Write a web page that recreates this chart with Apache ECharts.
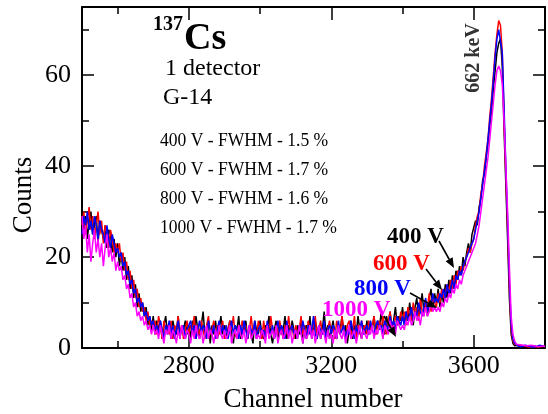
<!DOCTYPE html>
<html>
<head>
<meta charset="utf-8">
<script src="https://cdn.jsdelivr.net/npm/echarts@6/dist/echarts.min.js"></script>
<style>
html, body { margin: 0; padding: 0; background: #fff; }
#main { width: 548px; height: 414px; }
</style>
</head>
<body>
<div id="main"></div>
<script>
// channel axis: 2500..3800, one point every 5 channels
const channels = [];
for (let c = 2500; c <= 3800; c += 5) channels.push(c);

// one row = 100 channels
const counts400 = [
  31, 26, 29, 24, 28, 30, 25, 27, 29, 23, 28, 26, 24, 27, 22, 26, 25, 21, 24, 20,
  23, 18, 21, 17, 20, 15, 18, 13, 16, 11, 14, 9, 12, 8, 10, 7, 9, 5, 7, 4,
  7, 3, 6, 4, 6, 2, 5, 7, 3, 5, 2, 6, 4, 3, 7, 2, 5, 4, 6, 3,
  5, 2, 6, 3, 7, 4, 2, 5, 8, 3, 4, 6, 1, 5, 3, 6, 2, 4, 7, 3,
  5, 2, 4, 6, 3, 1, 5, 4, 7, 2, 4, 3, 6, 2, 5, 3, 1, 6, 4, 3,
  6, 3, 2, 5, 4, 7, 3, 1, 4, 6, 2, 5, 3, 4, 7, 2, 5, 3, 6, 4,
  2, 5, 3, 6, 1, 4, 5, 3, 7, 2, 4, 6, 3, 5, 2, 4, 8, 3, 5, 2,
  4, 6, 3, 2, 5, 4, 7, 3, 5, 1, 4, 6, 2, 5, 3, 7, 4, 2, 5, 3,
  6, 3, 5, 4, 7, 3, 6, 4, 8, 5, 3, 7, 5, 8, 4, 6, 9, 5, 7, 6,
  9, 5, 8, 6, 10, 7, 5, 9, 11, 7, 9, 12, 8, 10, 7, 11, 13, 9, 12, 10,
  13, 9, 12, 10, 14, 11, 15, 12, 16, 13, 17, 15, 18, 16, 20, 18, 21, 23, 21, 25,
  25, 28, 27, 31, 33, 37, 38, 42, 45, 49, 52, 57, 61, 65, 67, 68, 62, 48, 36, 24,
  11, 3, 1, 0.5, 0.3, 0.6, 0.2, 0.5, 0, 0.4, 0.2, 0.5, 0, 0.3, 0.5, 0.2, 0, 0.4, 0.2, 0.3,
  0.2
];
const counts600 = [
  27, 30, 25, 28, 31, 26, 29, 24, 27, 30, 25, 28, 23, 27, 25, 22, 26, 24, 21, 23,
  21, 23, 19, 21, 17, 19, 15, 17, 13, 15, 11, 13, 9, 11, 8, 9, 6, 8, 5, 6,
  4, 6, 3, 7, 5, 2, 6, 4, 5, 3, 6, 2, 5, 4, 7, 3, 5, 2, 4, 6,
  3, 5, 4, 7, 2, 5, 3, 6, 4, 2, 5, 7, 3, 4, 6, 2, 5, 3, 4, 6,
  2, 5, 3, 6, 4, 7, 3, 2, 5, 4, 6, 3, 5, 2, 4, 7, 3, 5, 2, 6,
  4, 2, 6, 3, 5, 3, 7, 4, 2, 5, 3, 6, 4, 2, 5, 3, 7, 4, 5, 2,
  5, 3, 4, 7, 3, 5, 2, 6, 4, 3, 5, 7, 2, 4, 6, 3, 5, 2, 4, 6,
  3, 5, 2, 6, 4, 3, 7, 4, 2, 5, 6, 3, 4, 7, 2, 5, 3, 6, 4, 5,
  3, 6, 4, 5, 7, 3, 5, 6, 4, 7, 5, 3, 6, 8, 5, 4, 7, 6, 5, 8,
  6, 8, 5, 9, 7, 6, 10, 7, 9, 6, 11, 8, 7, 10, 9, 12, 8, 11, 10, 9,
  12, 10, 13, 11, 12, 14, 12, 15, 13, 16, 14, 17, 16, 18, 17, 19, 20, 22, 21, 23,
  24, 27, 29, 30, 34, 36, 40, 43, 46, 51, 55, 60, 65, 69, 72, 71, 65, 51, 38, 26,
  13, 4, 1.5, 0.8, 0.4, 0.6, 0.3, 0.5, 0.2, 0.4, 0.6, 0.2, 0.5, 0.3, 0.4, 0.2, 0.5, 0.3, 0.2, 0.4,
  0.3
];
const counts800 = [
  25, 29, 27, 30, 26, 28, 25, 29, 27, 24, 28, 26, 25, 23, 27, 24, 22, 25, 23, 21,
  22, 20, 21, 18, 19, 16, 17, 14, 15, 12, 13, 10, 11, 9, 10, 7, 8, 6, 7, 5,
  6, 4, 5, 3, 6, 4, 2, 5, 4, 6, 3, 5, 2, 4, 6, 3, 4, 5, 2, 4,
  4, 6, 3, 5, 2, 4, 6, 3, 5, 4, 2, 6, 4, 3, 5, 2, 4, 6, 3, 5,
  3, 5, 2, 4, 6, 3, 5, 4, 2, 5, 3, 6, 4, 2, 5, 4, 3, 6, 2, 4,
  5, 3, 4, 2, 6, 4, 3, 5, 2, 4, 6, 3, 5, 4, 2, 6, 3, 4, 5, 3,
  4, 2, 5, 3, 6, 4, 2, 5, 3, 4, 7, 3, 2, 5, 4, 3, 6, 2, 4, 5,
  3, 5, 4, 2, 6, 3, 4, 5, 2, 4, 3, 6, 4, 2, 5, 3, 4, 6, 3, 4,
  5, 3, 6, 4, 3, 5, 6, 4, 5, 3, 6, 5, 4, 7, 5, 6, 4, 7, 6, 5,
  7, 5, 8, 6, 7, 9, 6, 8, 7, 10, 8, 7, 9, 11, 8, 10, 9, 12, 10, 11,
  10, 12, 11, 13, 11, 14, 12, 13, 15, 13, 16, 15, 17, 16, 18, 19, 20, 21, 22, 23,
  24, 26, 28, 30, 33, 36, 39, 42, 46, 50, 54, 59, 64, 68, 70, 70, 65, 53, 40, 28,
  15, 5, 2, 1, 0.6, 0.4, 0.7, 0.3, 0.5, 0.6, 0.3, 0.4, 0.6, 0.2, 0.5, 0.3, 0.4, 0.6, 0.3, 0.4,
  0.3
];
const counts1000 = [
  29, 24, 27, 21, 25, 19, 23, 26, 21, 24, 20, 23, 18, 22, 25, 20, 22, 19, 21, 17,
  19, 17, 18, 15, 16, 13, 14, 11, 12, 9, 10, 7, 8, 6, 7, 5, 6, 4, 5, 3,
  5, 3, 4, 2, 5, 3, 1, 4, 3, 5, 2, 4, 3, 1, 4, 2, 5, 3, 2, 4,
  3, 1, 4, 2, 5, 3, 2, 4, 1, 3, 5, 2, 4, 3, 1, 4, 2, 5, 3, 2,
  4, 2, 3, 5, 1, 3, 4, 2, 5, 3, 2, 4, 1, 3, 5, 2, 3, 4, 2, 3,
  2, 4, 3, 1, 5, 2, 3, 4, 2, 5, 1, 3, 4, 2, 3, 5, 2, 4, 1, 3,
  4, 2, 5, 3, 1, 4, 2, 3, 5, 2, 4, 1, 3, 5, 2, 4, 3, 1, 4, 2,
  3, 1, 4, 2, 5, 3, 2, 4, 1, 3, 5, 2, 3, 4, 1, 3, 5, 2, 4, 3,
  2, 4, 3, 5, 2, 4, 3, 5, 4, 2, 5, 4, 3, 6, 4, 5, 3, 6, 5, 4,
  5, 4, 6, 5, 7, 5, 6, 8, 6, 7, 5, 8, 7, 9, 7, 8, 10, 8, 9, 8,
  9, 8, 10, 9, 11, 10, 12, 11, 13, 12, 14, 13, 15, 14, 16, 17, 18, 19, 20, 21,
  21, 23, 25, 27, 30, 33, 36, 39, 42, 46, 50, 54, 58, 61, 62, 61, 58, 50, 40, 30,
  18, 7, 3, 1.5, 0.8, 0.5, 0.7, 0.4, 0.6, 0.3, 0.5, 0.4, 0.6, 0.3, 0.5, 0.4, 0.3, 0.5, 0.4, 0.3,
  0.4
];

const xMajor = [2800, 3200, 3600];
const xMinor = [2600, 3000, 3400];
const yMajor = [0, 20, 40, 60];
const yMinor = [10, 30, 50, 70];

const voltLabels = ['400 V', '600 V', '800 V', '1000 V'];
const fwhmLines = [
  '400 V - FWHM - 1.5 %',
  '600 V - FWHM - 1.7 %',
  '800 V - FWHM - 1.6 %',
  '1000 V - FWHM - 1.7 %'
];
const colors = ['#000000', '#ff0000', '#0000ff', '#ff00ff'];

const SERIF = '"Liberation Serif", "DejaVu Serif", serif';
const box = { left: 82, right: 3, top: 7, bottom: 66 };

function pairs(vals) {
  return channels.map((c, i) => [c, vals[i]]);
}

function xAx(grid, pos, ticks, len, withLabel) {
  return {
    gridIndex: grid, type: 'value', min: 2500, max: 3800, position: pos,
    axisLine: { show: grid === 0, onZero: false, lineStyle: { color: '#000', width: 2 } },
    axisTick: { inside: true, length: len, customValues: ticks, lineStyle: { color: '#000', width: 1.5 } },
    axisLabel: { show: withLabel, customValues: ticks, formatter: v => String(v), margin: 5, color: '#000', fontSize: 26, fontFamily: SERIF },
    splitLine: { show: false }
  };
}
function yAx(grid, pos, ticks, len, withLabel) {
  return {
    gridIndex: grid, type: 'value', min: 0, max: 75, position: pos,
    axisLine: { show: grid === 0, onZero: false, lineStyle: { color: '#000', width: 2 } },
    axisTick: { inside: true, length: len, customValues: ticks, lineStyle: { color: '#000', width: 1.5 } },
    axisLabel: { show: withLabel, customValues: ticks, formatter: v => String(v), margin: 11, color: '#000', fontSize: 26, fontFamily: SERIF },
    splitLine: { show: false }
  };
}

function txt(x, y, text, size, opts) {
  opts = opts || {};
  return {
    type: 'text', x: x, y: y, z: 100, rotation: opts.rotation || 0,
    scaleX: opts.sx || 1, scaleY: opts.sy || 1,
    style: {
      text: text, fill: opts.color || '#000', fontSize: size, fontFamily: SERIF,
      fontWeight: opts.bold ? 'bold' : 'normal',
      align: opts.align || 'left', verticalAlign: 'middle'
    }
  };
}

function arrow(x1, y1, x2, y2) {
  const a = Math.atan2(y2 - y1, x2 - x1), L = 10, W = 4;
  const bx = x2 - L * Math.cos(a), by = y2 - L * Math.sin(a);
  return [
    { type: 'line', z: 100, shape: { x1: x1, y1: y1, x2: bx, y2: by }, style: { stroke: '#000', lineWidth: 1.6 } },
    { type: 'polygon', z: 100, shape: { points: [[x2, y2], [bx + W * Math.sin(a), by - W * Math.cos(a)], [bx - W * Math.sin(a), by + W * Math.cos(a)]] }, style: { fill: '#000' } }
  ];
}

const chart = echarts.init(document.getElementById('main'));

const graphics = [
  txt(153, 24.5, '137', 20, { bold: true }),
  txt(184, 39.5, 'Cs', 38, { bold: true }),
  txt(165, 69, '1 detector', 24),
  txt(163, 98, 'G-14', 24),
  txt(474, 58, '662 keV', 20, { bold: true, rotation: Math.PI / 2, align: 'center', color: '#333' }),
  txt(24, 195, 'Counts', 27, { rotation: Math.PI / 2, align: 'center' }),
  txt(313, 400, 'Channel number', 27, { align: 'center' })
];
const fwhmY = [141, 170, 199, 228];
fwhmLines.forEach((t, i) => graphics.push(txt(160, fwhmY[i], t, 19.5, { sx: 0.9 })));
const voltPos = [[387, 237], [373, 264], [354, 289], [322, 310]];
voltLabels.forEach((t, i) => graphics.push(txt(voltPos[i][0], voltPos[i][1], t, 23, { bold: true, color: colors[i] })));
[[439, 241, 454, 268], [426, 269, 442, 290], [410, 293, 437, 308], [384, 316, 396, 337]]
  .forEach(a => graphics.push(...arrow(a[0], a[1], a[2], a[3])));

const seriesVals = [counts400, counts600, counts800, counts1000];

chart.setOption({
  animation: false,
  backgroundColor: '#fff',
  grid: [Object.assign({}, box), Object.assign({}, box)],
  xAxis: [
    xAx(0, 'bottom', xMajor, 13, true),
    xAx(0, 'top', xMajor, 13, false),
    xAx(1, 'bottom', xMinor, 7, false),
    xAx(1, 'top', xMinor, 7, false)
  ],
  yAxis: [
    yAx(0, 'left', yMajor, 12, true),
    yAx(0, 'right', yMajor, 12, false),
    yAx(1, 'left', yMinor, 7, false),
    yAx(1, 'right', yMinor, 7, false)
  ],
  series: seriesVals.map((vals, i) => ({
    name: voltLabels[i],
    type: 'line',
    xAxisIndex: 0,
    yAxisIndex: 0,
    data: pairs(vals),
    symbol: 'none',
    lineStyle: { color: colors[i], width: 1.5 },
    itemStyle: { color: colors[i] },
    z: 2 + i
  })),
  graphic: graphics
});
</script>
</body>
</html>
